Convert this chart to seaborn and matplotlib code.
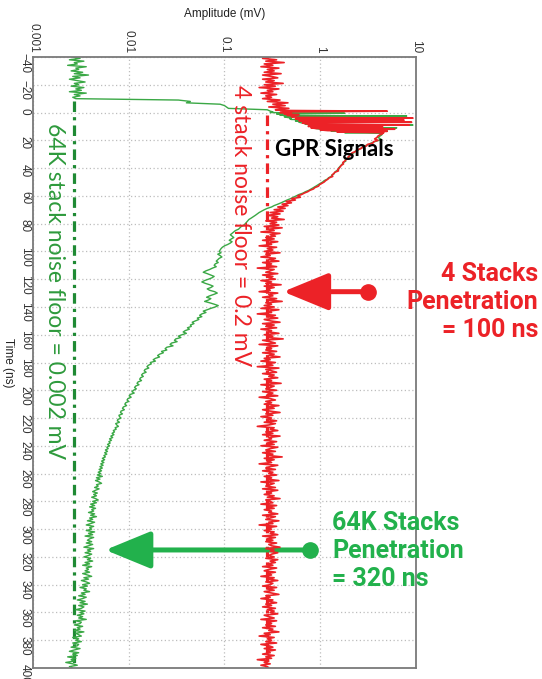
import numpy as np
import pandas as pd
import matplotlib
matplotlib.use("Agg")
import matplotlib.pyplot as plt
from matplotlib.ticker import NullLocator
import seaborn as sns

# ---------------- data ----------------
# sample times: 1 ns, finer (0.5 ns) during the direct-wave burst
time_ns = np.concatenate([np.arange(-40, -2, 1.0),
                          np.arange(-2, 16, 0.5),
                          np.arange(16, 401, 1.0)])

stack4_mV = [
    # -40 .. -3
    0.30, 0.25, 0.35, 0.27, 0.42, 0.26, 0.32, 0.24, 0.37, 0.28,
    0.33, 0.26, 0.39, 0.25, 0.31, 0.36, 0.25, 0.33, 0.27, 0.41,
    0.26, 0.34, 0.23, 0.37, 0.28, 0.32, 0.24, 0.35, 0.27, 0.31,
    0.25, 0.38, 0.28, 0.46, 0.32, 0.43, 0.29, 0.47,
    # -2 .. 15.5 (0.5 ns)
    0.34, 0.4, 5.0, 0.45, 0.38, 0.5, 0.42, 0.6, 0.45, 0.55,
    0.5, 0.6, 9.3, 0.55, 0.6, 7.5, 0.6, 0.7, 9.0, 0.65,
    0.7, 0.75, 8.5, 0.8, 0.75, 4.5, 0.8, 0.9, 6.0, 1.0,
    1.2, 5.0, 1.5, 4.6, 4.5, 4.4,
    # 16 .. 400
    4.2, 4.0, 3.9, 3.7,
    4.0, 3.6, 3.55, 3.1, 3.05, 2.75, 2.65, 2.4, 2.35, 2.15,
    2.1, 2.05, 1.95, 1.98, 1.85, 1.8, 1.72, 1.75, 1.66, 1.62,
    1.58, 1.52, 1.55, 1.42, 1.38, 1.33, 1.35, 1.24, 1.2, 1.14,
    1.1, 1.04, 0.98, 0.96, 0.88, 0.85, 0.78, 0.74, 0.68, 0.64,
    0.58, 0.62, 0.5, 0.55, 0.44, 0.5, 0.4, 0.46, 0.36, 0.43,
    0.33, 0.41, 0.3, 0.38, 0.28, 0.36, 0.31, 0.42, 0.27, 0.35,
    0.3, 0.37, 0.26, 0.4, 0.29, 0.33, 0.24, 0.38, 0.3, 0.34,
    0.27, 0.33, 0.25, 0.36, 0.29, 0.31, 0.23, 0.35, 0.28, 0.32,
    0.26, 0.38, 0.27, 0.30, 0.24, 0.34, 0.29, 0.37, 0.25, 0.31,
    0.28, 0.35, 0.22, 0.33, 0.30, 0.27, 0.36, 0.25, 0.32, 0.29,
    0.34, 0.24, 0.31, 0.27, 0.39, 0.26, 0.33, 0.28, 0.30, 0.23,
    0.36, 0.29, 0.32, 0.25, 0.35, 0.28, 0.40, 0.27, 0.31, 0.26,
    0.33, 0.24, 0.37, 0.29, 0.31, 0.22, 0.34, 0.28, 0.36, 0.26,
    0.30, 0.38, 0.25, 0.33, 0.27, 0.35, 0.24, 0.31, 0.29, 0.37,
    0.26, 0.32, 0.28, 0.41, 0.25, 0.30, 0.34, 0.23, 0.36, 0.28,
    0.31, 0.27, 0.35, 0.25, 0.33, 0.29, 0.38, 0.26, 0.30, 0.24,
    0.34, 0.28, 0.32, 0.22, 0.37, 0.27, 0.31, 0.35, 0.25, 0.33,
    0.29, 0.36, 0.26, 0.31, 0.28, 0.39, 0.24, 0.33, 0.30, 0.27,
    0.35, 0.25, 0.32, 0.28, 0.36, 0.23, 0.30, 0.34, 0.27, 0.31,
    0.26, 0.37, 0.29, 0.33, 0.25, 0.30, 0.38, 0.27, 0.32, 0.24,
    0.31, 0.28, 0.35, 0.26, 0.34, 0.29, 0.22, 0.33, 0.30, 0.36,
    0.27, 0.32, 0.25, 0.38, 0.29, 0.31, 0.26, 0.35, 0.28, 0.33,
    0.24, 0.36, 0.30, 0.27, 0.34, 0.25, 0.32, 0.29, 0.40, 0.26,
    0.33, 0.28, 0.31, 0.23, 0.36, 0.30, 0.27, 0.34, 0.25, 0.32,
    0.29, 0.35, 0.26, 0.31, 0.28, 0.37, 0.24, 0.33, 0.30, 0.27,
    0.34, 0.25, 0.36, 0.29, 0.31, 0.26, 0.33, 0.28, 0.38, 0.27,
    0.30, 0.32, 0.24, 0.35, 0.28, 0.33, 0.26, 0.31, 0.29, 0.36,
    0.25, 0.34, 0.30, 0.27, 0.37, 0.29, 0.32, 0.23, 0.35, 0.28,
    0.31, 0.26, 0.33, 0.30, 0.36, 0.25, 0.34, 0.28, 0.32, 0.27,
    0.35, 0.29, 0.31, 0.38, 0.27, 0.33, 0.30, 0.36, 0.31, 0.29,
    0.33, 0.27, 0.36, 0.30, 0.34, 0.28, 0.32, 0.25, 0.35, 0.29,
    0.26, 0.34, 0.28, 0.31, 0.24, 0.33, 0.29, 0.36, 0.27, 0.32,
    0.30, 0.25, 0.35, 0.28, 0.33, 0.26, 0.31, 0.37, 0.27, 0.30,
    0.24, 0.32, 0.29, 0.35, 0.27, 0.31, 0.25, 0.34, 0.28, 0.33,
    0.30, 0.36, 0.26, 0.29, 0.33, 0.24, 0.35, 0.28, 0.31, 0.27,
    0.34, 0.25, 0.32, 0.29, 0.37, 0.26, 0.30, 0.23, 0.33, 0.28,
    0.31, 0.27, 0.35, 0.24, 0.29, 0.32, 0.26, 0.34, 0.28, 0.30,
    0.25, 0.33, 0.27, 0.31, 0.22, 0.29, 0.26, 0.30, 0.24, 0.28, 0.27,
]

stack64k_mV = [
    # -40 .. -3
    0.0026, 0.0031, 0.0024, 0.0034, 0.0027, 0.0029, 0.0023, 0.0036, 0.0028, 0.0030,
    0.0025, 0.0033, 0.0027, 0.0038, 0.0026, 0.0031, 0.0024, 0.0029, 0.0035, 0.0027,
    0.0030, 0.0025, 0.0034, 0.0028, 0.0032, 0.0024, 0.0036, 0.0027, 0.0031, 0.0026,
    0.0028, 0.033, 0.044, 0.040, 0.09, 0.10, 0.105, 0.11,
    # -2 .. 15.5 (0.5 ns)
    0.28, 0.29, 0.3, 0.32, 0.3, 1.8, 0.35, 0.4, 0.38, 8.0,
    0.42, 0.45, 0.5, 0.48, 0.5, 7.0, 0.55, 0.6, 0.6, 0.65,
    0.7, 0.7, 9.3, 0.75, 0.8, 0.85, 6.3, 0.9, 1.0, 1.1,
    5.0, 1.3, 4.6, 1.8, 4.5, 4.4,
    # 16 .. 400
    4.4, 4.2, 4.0, 4.3,
    4.1, 3.7, 3.4, 3.2, 2.9, 2.85, 2.6, 2.5, 2.3, 2.25,
    2.1, 2.0, 2.02, 1.9, 1.82, 1.85, 1.74, 1.7, 1.65, 1.6,
    1.55, 1.56, 1.47, 1.42, 1.4, 1.32, 1.3, 1.22, 1.18, 1.1,
    1.06, 1.0, 0.95, 0.9, 0.85, 0.8, 0.76, 0.7, 0.66, 0.6,
    0.56, 0.52, 0.49, 0.45, 0.42, 0.39, 0.36, 0.33, 0.31, 0.28,
    0.26, 0.245, 0.23, 0.22, 0.21, 0.20, 0.19, 0.18, 0.175, 0.17,
    0.165, 0.16, 0.15, 0.145, 0.14, 0.13, 0.125, 0.12, 0.115, 0.12,
    0.125, 0.118, 0.112, 0.12, 0.115, 0.108, 0.1, 0.095, 0.092, 0.09,
    0.088, 0.092, 0.085, 0.09, 0.094, 0.088, 0.085, 0.082, 0.086, 0.08,
    0.078, 0.082, 0.075, 0.07, 0.064, 0.06, 0.066, 0.072, 0.078, 0.074,
    0.068, 0.062, 0.058, 0.063, 0.07, 0.076, 0.072, 0.066, 0.07, 0.079,
    0.084, 0.077, 0.07, 0.065, 0.072, 0.068, 0.062, 0.07, 0.078, 0.086,
    0.08, 0.072, 0.066, 0.06, 0.064, 0.058, 0.055, 0.058, 0.052, 0.054,
    0.050, 0.046, 0.048, 0.044, 0.045, 0.041, 0.043, 0.039, 0.037, 0.04,
    0.036, 0.033, 0.035, 0.031, 0.03, 0.032, 0.028, 0.027, 0.029, 0.025,
    0.024, 0.025, 0.022, 0.023, 0.021, 0.02, 0.021, 0.019, 0.018, 0.019,
    0.0168, 0.0172, 0.016, 0.0155, 0.0162, 0.0148, 0.0145, 0.0152, 0.014, 0.0136,
    0.0142, 0.0133, 0.013, 0.0136, 0.0125, 0.0122, 0.0128, 0.0118, 0.0115, 0.012,
    0.0112, 0.0108, 0.0114, 0.0104, 0.0101, 0.0106, 0.0098, 0.0096, 0.01, 0.0093,
    0.0091, 0.0095, 0.0088, 0.0086, 0.009, 0.0083, 0.0082, 0.0086, 0.0079, 0.008,
    0.0083, 0.0077, 0.0076, 0.008, 0.0073, 0.0075, 0.0078, 0.0072, 0.0074, 0.0069,
    0.0071, 0.0067, 0.007, 0.0065, 0.0068, 0.0063, 0.0066, 0.0062, 0.0064, 0.006,
    0.0063, 0.0059, 0.0061, 0.0057, 0.006, 0.0056, 0.0059, 0.0055, 0.0057, 0.0053,
    0.0056, 0.0052, 0.0055, 0.0051, 0.0054, 0.005, 0.0053, 0.0049, 0.0052, 0.0048,
    0.0051, 0.0047, 0.0053, 0.0046, 0.005, 0.0045, 0.0049, 0.0052, 0.0046, 0.0048,
    0.0044, 0.0049, 0.0045, 0.0042, 0.0047, 0.0043, 0.0046, 0.0041, 0.0045, 0.0048,
    0.0042, 0.0046, 0.004, 0.0044, 0.0039, 0.0045, 0.0041, 0.0043, 0.0038, 0.0044,
    0.004, 0.0046, 0.0039, 0.0042, 0.0037, 0.0044, 0.004, 0.0036, 0.0043, 0.0039,
    0.0041, 0.0036, 0.0044, 0.0038, 0.0042, 0.0035, 0.0043, 0.0039, 0.0037, 0.0041,
    0.0036, 0.0042, 0.0038, 0.0034, 0.0043, 0.0037, 0.004, 0.0035, 0.0041, 0.0038,
    0.0034, 0.004, 0.0037, 0.0042, 0.0035, 0.0039, 0.0033, 0.0041, 0.0036, 0.0038,
    0.0035, 0.0039, 0.0033, 0.0037, 0.0041, 0.0034, 0.0038, 0.0032, 0.0036, 0.0039,
    0.0033, 0.0037, 0.0031, 0.0036, 0.0034, 0.0039, 0.0032, 0.0035, 0.003, 0.0036,
    0.0033, 0.0029, 0.0035, 0.0031, 0.0037, 0.003, 0.0034, 0.0032, 0.0028, 0.0035,
    0.0031, 0.0034, 0.0029, 0.0033, 0.003, 0.0036, 0.0028, 0.0032, 0.0031, 0.0027,
    0.0033, 0.0029, 0.0031, 0.0027, 0.0034, 0.0028, 0.003, 0.0032, 0.0026, 0.003,
    0.0028, 0.0032, 0.0026, 0.003, 0.0029, 0.0025, 0.0031, 0.0027, 0.0024, 0.003,
    0.0026, 0.0029, 0.0023, 0.0028, 0.0025, 0.0027, 0.0022, 0.0026, 0.0029, 0.0024, 0.0026,
]

x_ticks = [0.001, 0.01, 0.1, 1, 10]
x_tick_labels = ["0.001", "0.01", "0.1", "1", "10"]
y_ticks = list(range(-40, 401, 20))
y_tick_labels = [str(v).replace("-", "\u2212") for v in y_ticks]

floor_64k_mV = 0.0027      # drawn position of the 64K noise-floor line
floor_64k_from_ns = -8
floor_4_mV = 0.28          # drawn position of the 4-stack noise-floor line
floor_4_from_ns = 2

pen4_ns, pen4_tip_mV, pen4_tail_mV = 129, 0.41, 3.16
pen64_ns, pen64_tip_mV, pen64_tail_mV = 315, 0.0057, 0.79

assert len(stack4_mV) == len(time_ns) == len(stack64k_mV)

# ---------------- style ----------------
sns.set_theme(style="white")
plt.rcParams["font.family"] = ["Liberation Sans", "DejaVu Sans"]

GREEN_TRACE = "#3aa845"
GREEN_FLOOR = "#1f8a34"
GREEN_TEXT = "#2e9a3c"
GREEN_ANN = "#22b14c"
RED = "#ec2227"

fig = plt.figure(figsize=(5.42, 6.79), dpi=100)
ax = fig.add_axes([33 / 542, 1 - 668 / 679, 383 / 542, 611 / 679])

df64 = pd.DataFrame({"amp": stack64k_mV, "time": time_ns})
df4 = pd.DataFrame({"amp": stack4_mV, "time": time_ns})

# noise-floor lines
ax.plot([floor_64k_mV, floor_64k_mV], [floor_64k_from_ns, 400], color=GREEN_FLOOR,
        lw=2.3, dashes=(3.3, 1.6, 1.0, 1.6), zorder=1.6)
ax.plot([floor_4_mV, floor_4_mV], [floor_4_from_ns, 400], color=RED,
        lw=2.3, dashes=(3.3, 1.6, 1.0, 1.6), zorder=1.6)

# green arrow (under the red trace)
ax.annotate("", xy=(pen64_tip_mV, pen64_ns), xytext=(pen64_tail_mV, pen64_ns),
            arrowprops=dict(arrowstyle="-|>,head_length=28,head_width=11.5",
                            mutation_scale=1, color=GREEN_ANN, lw=3.6,
                            shrinkA=0, shrinkB=0), zorder=1.7)
ax.plot([pen64_tail_mV], [pen64_ns], marker="o", ms=11, color=GREEN_ANN, zorder=1.7)

sns.lineplot(data=df64, x="amp", y="time", sort=False, estimator=None, orient="y",
             color=GREEN_TRACE, lw=1.0, ax=ax, zorder=2)
sns.lineplot(data=df4, x="amp", y="time", sort=False, estimator=None, orient="y",
             color=RED, lw=1.2, ax=ax, zorder=2.1)

# red arrow
ax.annotate("", xy=(pen4_tip_mV, pen4_ns), xytext=(pen4_tail_mV, pen4_ns),
            arrowprops=dict(arrowstyle="-|>,head_length=28,head_width=11.5",
                            mutation_scale=1, color=RED, lw=3.6,
                            shrinkA=0, shrinkB=0), zorder=3)
ax.plot([pen4_tail_mV], [pen4_ns], marker="o", ms=11, color=RED, zorder=3)

# axes
ax.set_xscale("log")
ax.set_xlim(0.001, 10)
ax.set_ylim(400, -40)
ax.xaxis.tick_top()
ax.set_xticks(x_ticks)
ax.set_xticklabels(x_tick_labels, rotation=-90)
ax.xaxis.set_minor_locator(NullLocator())
ax.set_yticks(y_ticks)
ax.set_yticklabels(y_tick_labels, rotation=-90)
ax.tick_params(axis="x", which="both", length=0, pad=3, labelsize=8.5, colors="#333333")
ax.tick_params(axis="y", which="both", length=0, pad=1.5, labelsize=8.5, colors="#333333")
ax.grid(True, which="major", color="#bdbdbd", linestyle=(0, (1, 2)), lw=0.9)
for sp in ax.spines.values():
    sp.set_visible(True)
    sp.set_color("#7a7a7a")
    sp.set_linewidth(1.3)

ax.set_xlabel("Amplitude (mV)", fontsize=8.5, color="#222222")
ax.xaxis.set_label_position("top")
ax.xaxis.set_label_coords(0.5, 1.0704)
ax.xaxis.label.set_va("center")
ax.set_ylabel("Time (ns)", fontsize=8.5, color="#222222", rotation=-90)
ax.yaxis.set_label_coords(-0.066, 0.5)
ax.yaxis.label.set_va("center")
ax.yaxis.label.set_ha("center")

# annotations
ax.text(0.00169, 7.5, "64K stack noise floor = 0.002 mV", rotation=-90,
        ha="center", va="top", color=GREEN_TEXT, fontsize=16.5, family=["Lato", "DejaVu Sans"])
ax.text(0.147, -19.8, "4 stack noise floor = 0.2 mV", rotation=-90,
        ha="center", va="top", color=RED, fontsize=16.5, family=["Lato", "DejaVu Sans"])
ax.text(0.339, 26.3, "GPR Signals", ha="left", va="center", color="black",
        fontsize=16, fontweight="bold", family=["Lato", "DejaVu Sans"], zorder=5)

fig.text(538 / 542, 1 - 302 / 679, "4 Stacks\nPenetration\n= 100 ns", ha="right",
         va="center", multialignment="right", color=RED, fontsize=18,
         fontweight="bold", family=["Roboto", "DejaVu Sans"], linespacing=1.2)
fig.text(332 / 542, 1 - 551 / 679, "64K Stacks\nPenetration\n= 320 ns", ha="left",
         va="center", multialignment="left", color=GREEN_ANN, fontsize=18,
         fontweight="bold", family=["Roboto", "DejaVu Sans"], linespacing=1.2)

fig.savefig("out.png", dpi=100)
